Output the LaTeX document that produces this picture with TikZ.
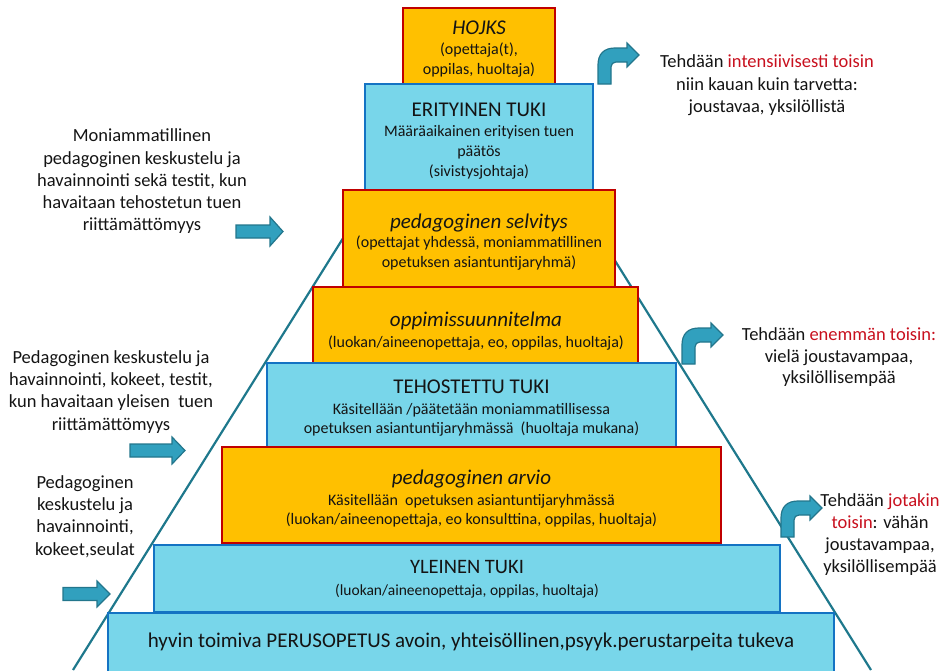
\documentclass[tikz,border=0pt]{standalone}
\usepackage{fontspec}
\setmainfont{Carlito}
\definecolor{orf}{RGB}{255,192,0}
\definecolor{redb}{RGB}{192,0,0}
\definecolor{cyf}{RGB}{120,214,234}
\definecolor{blub}{RGB}{20,115,195}
\definecolor{arrf}{RGB}{49,160,190}
\definecolor{arrd}{RGB}{35,118,140}
\definecolor{linec}{RGB}{30,120,140}
\definecolor{txt}{RGB}{20,20,20}
\definecolor{redt}{RGB}{200,16,30}
\begin{document}
\begin{tikzpicture}[x=1pt,y=-1pt,
  side/.style={anchor=base, inner sep=0pt, text=txt, font=\fontsize{18.5}{22}\selectfont},
  ttl/.style={anchor=base, inner sep=0pt, text=txt, font=\fontsize{21}{25}\selectfont},
  ttli/.style={anchor=base, inner sep=0pt, text=txt, font=\fontsize{21}{25}\selectfont\itshape},
  sub/.style={anchor=base, inner sep=0pt, text=txt, font=\fontsize{16}{19}\selectfont},
  obox/.style={draw=redb, fill=orf, line width=2.5pt, inner sep=0pt},
  bbox/.style={draw=blub, fill=cyf, line width=2.5pt, inner sep=0pt},
  blk/.style={fill=arrf, draw=arrd, line width=1.2pt, line join=miter},
  pics/bentarrow/.style={code={
    \draw[blk] (0,0) -- (0,-19) .. controls (0,-30) and (6,-36) .. (17,-36)
      -- (29,-36) -- (29,-41) -- (41,-29) -- (29,-17) -- (29,-22) -- (18,-22)
      .. controls (15,-22) and (13,-20) .. (13,-17) -- (13,0) -- cycle;
  }}
]
\useasboundingbox (0,0) rectangle (942,670);
\clip (0,0) rectangle (942,670);

% pyramid outline
\coordinate (tl) at (73,670);
\coordinate (tt) at (472,32);
\coordinate (tr) at (871,670);
\draw[linec, line width=2.2pt] (tl) -- (tt) -- (tr);

% boxes
\node[obox, minimum width=152, minimum height=76] (hojks) at (479,46) {};
\node[bbox, minimum width=228, minimum height=106] (erit) at (479,137) {};
\node[obox, minimum width=272, minimum height=97] (selv) at (479,238.5) {};
\node[obox, minimum width=325, minimum height=76] (oppi) at (475.5,325) {};
\node[bbox, minimum width=409, minimum height=84] (teho) at (471.5,405) {};
\node[obox, minimum width=499, minimum height=96] (arvio) at (471.5,495) {};
\node[bbox, minimum width=626, minimum height=67] (ylei) at (467,578.5) {};
\node[bbox, minimum width=726, minimum height=90] (perus) at (471,658) {};

% box texts
\node[ttli] (hojks1) at (479,34) {HOJKS};
\node[sub] (hojks2) at (479,54.5) {(opettaja(t),};
\node[sub] (hojks3) at (479,74.5) {oppilas, huoltaja)};

\node[ttl] (erit1) at (479,116) {ERITYINEN TUKI};
\node[sub] (erit2) at (479,136.5) {Määräaikainen erityisen tuen};
\node[sub] (erit3) at (479,156) {päätös};
\node[sub] (erit4) at (479,176) {(sivistysjohtaja)};

\node[ttli] (selv1) at (479,228) {pedagoginen selvitys};
\node[sub] (selv2) at (479,247.5) {(opettajat yhdessä, moniammatillinen};
\node[sub] (selv3) at (479,267) {opetuksen asiantuntijaryhmä)};

\node[ttli] (oppi1) at (476,326) {oppimissuunnitelma};
\node[sub] (oppi2) at (476,347.5) {(luokan/aineenopettaja, eo, oppilas, huoltaja)};

\node[ttl] (teho1) at (471.5,393) {TEHOSTETTU TUKI};
\node[sub] (teho2) at (471.5,414) {Käsitellään /päätetään moniammatillisessa};
\node[sub] (teho3) at (471.5,433.5) {opetuksen asiantuntijaryhmässä\ \ (huoltaja mukana)};

\node[ttli] (arvio1) at (471.5,484) {pedagoginen arvio};
\node[sub] (arvio2) at (471.5,505.5) {Käsitellään\ \ opetuksen asiantuntijaryhmässä};
\node[sub] (arvio3) at (471.5,524.5) {(luokan/aineenopettaja, eo konsulttina, oppilas, huoltaja)};

\node[anchor=base, inner sep=0pt, text=txt, font=\fontsize{20.5}{24}\selectfont] (ylei1) at (467,573) {YLEINEN TUKI};
\node[anchor=base, inner sep=0pt, text=txt, font=\fontsize{15.5}{18}\selectfont] (ylei2) at (467,595.5) {(luokan/aineenopettaja, oppilas, huoltaja)};

\node[anchor=base, inner sep=0pt, text=txt, font=\fontsize{21}{25}\selectfont] (perus1) at (471,647.5) {hyvin toimiva PERUSOPETUS avoin, yhteisöllinen,psyyk.perustarpeita tukeva};

% left texts
\node[side] (a1) at (142,141) {Moniammatillinen};
\node[side] (a2) at (142,164) {pedagoginen keskustelu ja};
\node[side] (a3) at (142,186) {havainnointi sekä testit, kun};
\node[side] (a4) at (142,208) {havaitaan tehostetun tuen};
\node[side] (a5) at (142,230) {riittämättömyys};

\node[side] (b1) at (111,363) {Pedagoginen keskustelu ja};
\node[side] (b2) at (111,385) {havainnointi, kokeet, testit,};
\node[side] (b3) at (111,407) {kun havaitaan yleisen\ \ tuen};
\node[side] (b4) at (111,430) {riittämättömyys};

\node[side] (c1) at (85,488) {Pedagoginen};
\node[side] (c2) at (85,510) {keskustelu ja};
\node[side] (c3) at (85,532) {havainnointi,};
\node[side] (c4) at (85,555) {kokeet,seulat};

% right texts
\node[side] (d1) at (767,67) {Tehdään {\color{redt}intensiivisesti toisin}};
\node[side] (d2) at (767,90) {niin kauan kuin tarvetta:};
\node[side] (d3) at (767,112) {joustavaa, yksilöllistä};

\node[side] (e1) at (839,340) {Tehdään {\color{redt}enemmän toisin:}};
\node[side] (e2) at (839,362) {vielä joustavampaa,};
\node[side] (e3) at (839,383) {yksilöllisempää};

\node[side] (f1) at (880,506) {Tehdään {\color{redt}jotakin}};
\node[side] (f2) at (880,528) {{\color{redt}toisin}: vähän};
\node[side] (f3) at (880,550) {joustavampaa,};
\node[side] (f4) at (880,572) {yksilöllisempää};

% block arrows (left)
\draw[blk] (236,225) -- (270,225) -- (270,217) -- (283,231.5) -- (270,246) -- (270,238) -- (236,238) -- cycle;
\draw[blk] (130,444) -- (172,444) -- (172,437) -- (185,450.5) -- (172,464) -- (172,457) -- (130,457) -- cycle;
\draw[blk] (63,587.5) -- (97,587.5) -- (97,581) -- (110,594) -- (97,607) -- (97,600.5) -- (63,600.5) -- cycle;

% bent arrows (right)
\pic at (598,84) {bentarrow};
\pic at (682,364) {bentarrow};
\pic at (781,537) {bentarrow};
\end{tikzpicture}
\end{document}
